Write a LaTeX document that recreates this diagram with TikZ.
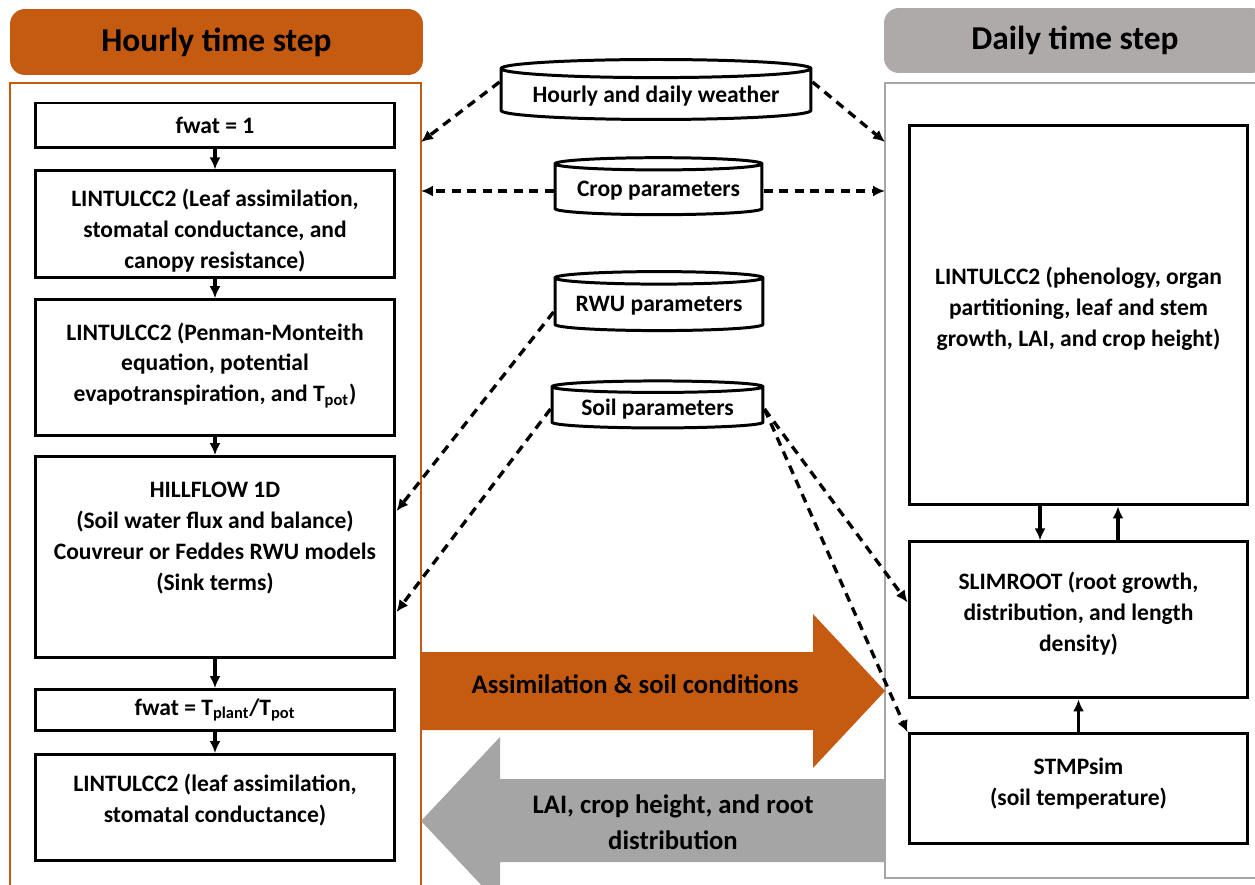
\documentclass[tikz,border=0pt]{standalone}
\usepackage{fontspec}
\setmainfont{Carlito}
\usetikzlibrary{shapes.geometric, positioning, arrows.meta}
\definecolor{hourorange}{HTML}{C55A11}
\definecolor{daygray}{HTML}{AEAAAA}
\definecolor{backgray}{HTML}{A5A5A5}
\definecolor{framegray}{HTML}{A6A6A6}
\newcommand{\bodyfont}{\fontsize{13.4}{17.6}\selectfont\bfseries}
\newcommand{\headfont}{\fontsize{19}{23}\selectfont\bfseries}
\newcommand{\arrowfont}{\fontsize{15.2}{20.5}\selectfont\bfseries}
\tikzset{
    >={Latex[length=2.4mm, width=2.2mm]}, % filled arrow heads
    modbox/.style={draw, line width=1.7pt, align=center, font=\bodyfont}, % every model box
    leftbox/.style={modbox, minimum width=7.2cm},
    rightbox/.style={modbox, minimum width=6.78cm},
    database/.style={cylinder, shape border rotate=90, draw, line width=1.7pt, aspect=0.07, inner ysep=0.05cm, fill=white, font=\bodyfont},
    headbox/.style={rounded corners=0.3cm, font=\headfont},
    stepframe/.style={draw, line width=1.4pt, outer sep=0pt},
    flow/.style={->, line width=2pt}, % solid arrows between boxes
    feed/.style={->, line width=1.9pt, dash pattern=on 0.18cm off 0.13cm}, % input data
}

\begin{document}
\begin{tikzpicture}[x=0.02cm, y=-0.02cm]
        \useasboundingbox (0,0) rectangle (1255,885);

        % Time step frames and headers
        \node[stepframe, draw=hourorange, minimum width=8.22cm, minimum height=16.24cm] (hourbox) at (215.5,489) {};
        \node[stepframe, draw=framegray, minimum width=7.6cm, minimum height=15.9cm] (daybox) at (1075,480.5) {};
        \node[headbox, fill=hourorange, minimum width=8.26cm, minimum height=1.32cm] (hourhead) at (216.5,42) {Hourly time step};
        \node[headbox, fill=daygray, minimum width=7.64cm, minimum height=1.3cm] (dayhead) at (1075,40.5) {Daily time step};

        % Hourly models
        \node[leftbox, minimum height=0.9cm] (fwatone) at (215,125.5) {fwat = 1};
        \node[leftbox, minimum height=2.08cm, below=0.4cm of fwatone] (leafhour) {\rule{0pt}{0.59cm}LINTULCC2 (Leaf assimilation,\\stomatal conductance, and\\canopy resistance)};
        \node[leftbox, minimum height=2.72cm, below=0.38cm of leafhour] (penman) {LINTULCC2 (Penman-Monteith\\equation, potential\\evapotranspiration, and T\textsubscript{pot})\rule[-0.22cm]{0pt}{0pt}};
        \node[leftbox, minimum height=4.02cm, below=0.36cm of penman] (hill) {HILLFLOW 1D\\(Soil water flux and balance)\\Couvreur or Feddes RWU models\\(Sink terms)\rule[-0.84cm]{0pt}{0pt}};
        \node[leftbox, minimum height=0.82cm, below=0.58cm of hill] (fwatratio) {fwat = T\textsubscript{plant}/T\textsubscript{pot}};
        \node[leftbox, minimum height=2.12cm, below=0.42cm of fwatratio] (leafstress) {LINTULCC2 (leaf assimilation,\\stomatal conductance)\rule[-0.36cm]{0pt}{0pt}};

        % Daily models
        \node[rightbox, minimum height=7.6cm] (pheno) at (1078.5,315) {LINTULCC2 (phenology, organ\\partitioning, leaf and stem\\growth, LAI, and crop height)\rule[-0.32cm]{0pt}{0pt}};
        \node[rightbox, minimum height=3.12cm, below=0.68cm of pheno] (slimroot) {SLIMROOT (root growth,\\distribution, and length\\density)\rule[-0.32cm]{0pt}{0pt}};
        \node[rightbox, minimum height=2.2cm, below=0.66cm of slimroot] (stmp) {STMPsim\\(soil temperature)\rule[-0.27cm]{0pt}{0pt}};

        % Exchange between the time steps
        \fill[hourorange] (421,652) -- (813,652) -- (813,614) -- (885,691) -- (813,768) -- (813,730) -- (421,730) -- cycle;
        \fill[backgray] (885,779) -- (500,779) -- (500,737) -- (421,821) -- (500,905) -- (500,862) -- (885,862) -- cycle;
        \node[font=\arrowfont] (assim) at (635,684) {Assimilation \& soil conditions};
        \node[font=\arrowfont, align=center] (feedback) at (673,822) {LAI, crop height, and root\\distribution};

        % Input data
        \node[database, minimum width=6.2cm, minimum height=1.2cm] (weather) at (656,96) {Hourly and daily weather};
        \node[database, minimum width=4.14cm, minimum height=1.14cm] (crop) at (658.5,191) {Crop parameters};
        \node[database, minimum width=4.16cm, minimum height=1.18cm] (rwu) at (659,306) {RWU parameters};
        \node[database, minimum width=4.22cm, minimum height=0.94cm] (soil) at (657.5,409) {Soil parameters};

        % draw Edges
        \draw[flow] (fwatone) -- (leafhour);
        \draw[flow] (leafhour) -- (penman);
        \draw[flow] (penman) -- (hill);
        \draw[flow] (hill) -- (fwatratio);
        \draw[flow] (fwatratio) -- (leafstress);
        \draw[flow] ([xshift=-0.77cm]pheno.south) -- ([xshift=-0.77cm]slimroot.north);
        \draw[flow] ([xshift=0.79cm]slimroot.north) -- ([xshift=0.79cm]pheno.south);
        \draw[flow] (stmp) -- (slimroot);

        \draw[feed] ([yshift=0.28cm]weather.west) -- ([yshift=-1.18cm]hourbox.north east);
        \draw[feed] ([yshift=0.28cm]weather.east) -- ([yshift=-1.18cm]daybox.north west);
        \draw[feed] (crop.west) -- (hourbox.east |- crop.west);
        \draw[feed] (crop.east) -- (daybox.west |- crop.east);
        \draw[feed] ([yshift=-0.12cm]rwu.west) -- ([yshift=-1.12cm]hill.north east);
        \draw[feed] (soil.west) -- ([yshift=0.94cm]hill.south east);
        \draw[feed] (soil.east) -- ([yshift=-1.24cm]slimroot.north west);
        \draw[feed] (soil.east) -- (stmp.north west);
    \end{tikzpicture}
\end{document}
